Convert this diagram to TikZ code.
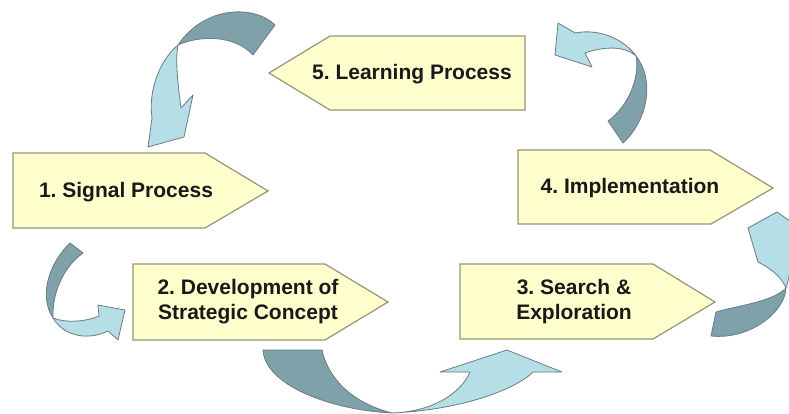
\documentclass[tikz,border=0pt]{standalone}
\usepackage{fontspec}
\setmainfont{Liberation Sans}
\frenchspacing
\definecolor{boxfill}{RGB}{255,255,206}
\definecolor{boxline}{RGB}{150,150,118}
\definecolor{arrdark}{RGB}{127,161,170}
\definecolor{arrlight}{RGB}{182,222,230}
\definecolor{arrline}{RGB}{105,125,128}
\tikzset{
  stepshape/.style={fill=boxfill, draw=boxline, line width=1.2pt, line join=miter},
  steplabel/.style={font=\fontsize{21}{25}\selectfont\bfseries, align=center, inner sep=0pt, text=black!90},
  darkpart/.style={fill=arrdark, draw=arrline, line width=0.8pt, line join=round},
  lightpart/.style={fill=arrlight, draw=arrline, line width=0.8pt, line join=round}
}
\begin{document}
\begin{tikzpicture}[x=1pt,y=-1pt]
\clip (0,0) rectangle (789,414);
\fill[white] (0,0) rectangle (789,414);

% Arrow A (5 -> 1)
\path[lightpart] (178,45) .. controls (160,60) and (148,90) .. (152,118) -- (148,147) -- (184,137) -- (193,95) -- (181,108) .. controls (178,85) and (175,60) .. (178,45) -- cycle;
\path[darkpart] (275,25) .. controls (255,5) and (205,5) .. (178,45) .. controls (200,35) and (235,35) .. (253,55) -- cycle;

% Arrow B (4 -> 5)
\path[lightpart] (636,56) .. controls (625,40) and (600,28) .. (575,33) -- (558,23) -- (555,55) -- (592,67) -- (585,53) .. controls (605,46) and (625,46) .. (636,56) -- cycle;
\path[darkpart] (623,143) .. controls (648,120) and (655,80) .. (636,56) .. controls (640,75) and (630,105) .. (608,121) -- cycle;

% Arrow C (1 -> 2)
\path[lightpart] (53,318) .. controls (65,323) and (85,322) .. (99,316) -- (98,305) -- (125,310) -- (118,340) -- (108,331) .. controls (90,340) and (65,338) .. (53,318) -- cycle;
\path[darkpart] (70,243) .. controls (50,262) and (38,295) .. (53,318) .. controls (52,295) and (62,268) .. (83,253) -- cycle;

% Arrow D (2 -> 3)
\path[lightpart] (392,413) .. controls (430,412) and (460,395) .. (470,372) -- (440,372) -- (507,350) -- (562,372) -- (533,372) .. controls (515,390) and (460,410) .. (392,413) -- cycle;
\path[darkpart] (263,350) .. controls (265,385) and (330,410) .. (392,413) .. controls (360,405) and (330,385) .. (322,350) -- cycle;

% Arrow E (3 -> 4)
\path[lightpart] (786,288) .. controls (792,270) and (792,250) .. (790,238) -- (800,228) -- (777,212) -- (748,228) -- (758,262) .. controls (770,268) and (781,276) .. (786,288) -- cycle;
\path[darkpart] (716,312) .. controls (740,305) and (772,302) .. (786,288) .. controls (785,312) and (750,340) .. (711,336) -- cycle;

% Step boxes
\path[stepshape] (13,153) -- (205,153) -- (268,191) -- (205,228) -- (13,228) -- cycle;
\path[stepshape] (133,264) -- (325,264) -- (388,302) -- (325,340) -- (133,340) -- cycle;
\path[stepshape] (460,264) -- (653,264) -- (715,302) -- (653,339) -- (460,339) -- cycle;
\path[stepshape] (518,150) -- (710,150) -- (773,188) -- (711,224) -- (518,224) -- cycle;
\path[stepshape] (269,73) -- (330,36) -- (525,36) -- (525,110) -- (330,110) -- cycle;

\node[steplabel] (s1) at (126,192) {1. Signal Process};
\node[steplabel] (s2) at (248,302) {2. Development of\\Strategic Concept};
\node[steplabel] (s3) at (574,302) {3. Search \&\\Exploration};
\node[steplabel] (s4) at (630,188) {4. Implementation};
\node[steplabel] (s5) at (412,74) {5. Learning Process};
\end{tikzpicture}
\end{document}
